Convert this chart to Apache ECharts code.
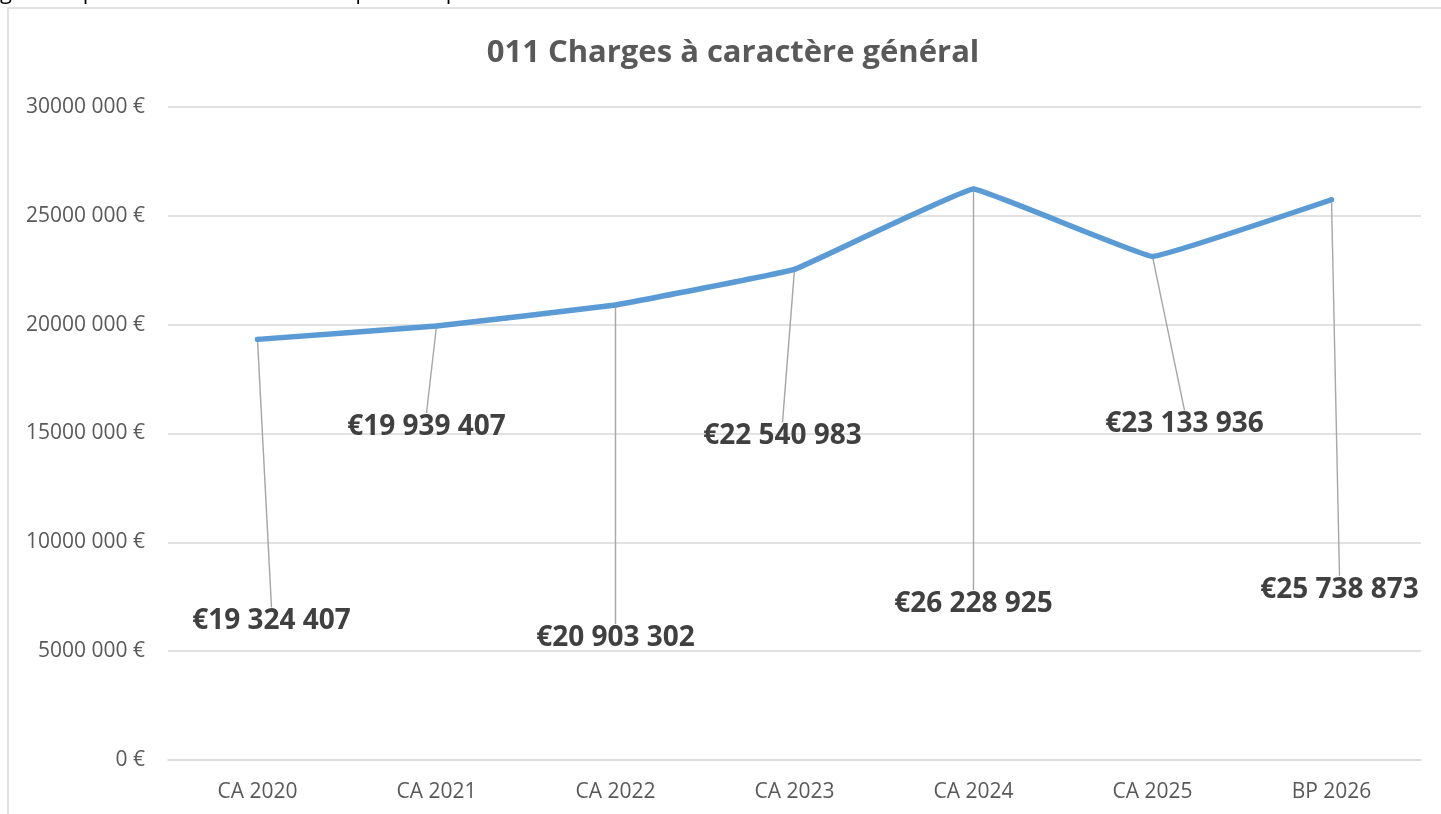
<!DOCTYPE html>
<html>
<head>
<meta charset="utf-8">
<script src="https://cdn.jsdelivr.net/npm/echarts@6/dist/echarts.min.js"></script>
<style>
  html, body { margin: 0; padding: 0; background: #fff; }
  #main { width: 1441px; height: 814px; }
</style>
</head>
<body>
<div id="main"></div>
<script>
// exercices (CA = compte administratif, BP = budget primitif)
var categories = ['CA 2020', 'CA 2021', 'CA 2022', 'CA 2023', 'CA 2024', 'CA 2025', 'BP 2026'];
// montants du chapitre 011
var charges = [19324407, 19939407, 20903302, 22540983, 26228925, 23133936, 25738873];
// graduations de l'axe vertical
var yMin = 0;
var yMax = 30000000;
var yStep = 5000000;

// décalage des étiquettes par rapport au point (comme déplacées à la main dans Excel)
var labelShift = [[14, 282], [-10, 101], [0, 333], [-12, 167], [0, 415], [32, 168], [8, 390]];

function groupDigits(n) {
    return String(n).replace(/\B(?=(\d{3})+(?!\d))/g, ' ');
}

// "30000 000 €" : seul le dernier groupe est séparé
function axisFmt(v) {
    if (v === 0) return '0 €';
    var rest = String(v % 1000);
    while (rest.length < 3) rest = '0' + rest;
    return Math.floor(v / 1000) + ' ' + rest + ' €';
}

var chartDom = document.getElementById('main');
var myChart = echarts.init(chartDom);
var FONT = '"Open Sans", "Noto Sans", sans-serif';

var option = {
    animation: false,
    backgroundColor: '#fff',
    textStyle: { fontFamily: FONT },
    title: {
        text: '011 Charges à caractère général',
        left: 728,
        textAlign: 'center',
        top: 33,
        textStyle: {
            fontFamily: FONT,
            fontSize: 31,
            fontWeight: 'bold',
            color: '#595959'
        }
    },
    graphic: [
        {
            type: 'rect',
            shape: { x: 8, y: 8, width: 1460, height: 830 },
            style: { fill: 'none', stroke: '#d9d9d9', lineWidth: 1.5 },
            silent: true,
            z: -1
        },
        {
            type: 'text',
            left: 0,
            top: -18,
            style: {
                text: 'général pourrait être moins élevé que celui présenté.',
                font: '22px ' + FONT,
                fill: '#000'
            },
            silent: true
        }
    ],
    grid: {
        left: 168,
        right: 20,
        top: 107,
        bottom: 54
    },
    xAxis: {
        type: 'category',
        data: categories,
        boundaryGap: true,
        axisLine: { show: true, lineStyle: { color: '#d9d9d9', width: 1.5 } },
        axisTick: { show: false },
        axisLabel: {
            margin: 22,
            fontSize: 21,
            color: '#595959',
            fontFamily: FONT
        }
    },
    yAxis: {
        type: 'value',
        min: yMin,
        max: yMax,
        interval: yStep,
        axisLine: { show: false },
        axisTick: { show: false },
        splitLine: { lineStyle: { color: '#d9d9d9', width: 1.5 } },
        axisLabel: {
            margin: 23,
            fontSize: 21,
            color: '#595959',
            fontFamily: FONT,
            formatter: axisFmt
        }
    },
    series: [
        {
            name: '011 Charges à caractère général',
            type: 'line',
            data: charges,
            smooth: 0.06,
            symbol: 'circle',
            symbolSize: 5,
            showSymbol: true,
            itemStyle: { color: '#5b9bd5' },
            lineStyle: { color: '#5b9bd5', width: 5.5, cap: 'round', join: 'round' },
            label: {
                show: true,
                position: 'inside',
                fontFamily: FONT,
                fontSize: 28,
                fontWeight: 'bold',
                color: '#404040',
                formatter: function (p) {
                    return '€' + groupDigits(p.value);
                }
            },
            labelLine: {
                show: true,
                lineStyle: { color: '#a6a6a6', width: 1.4 }
            },
            labelLayout: function (params) {
                var s = labelShift[params.dataIndex];
                return { dx: s[0], dy: s[1] };
            }
        }
    ]
};

option && myChart.setOption(option);
</script>
</body>
</html>
